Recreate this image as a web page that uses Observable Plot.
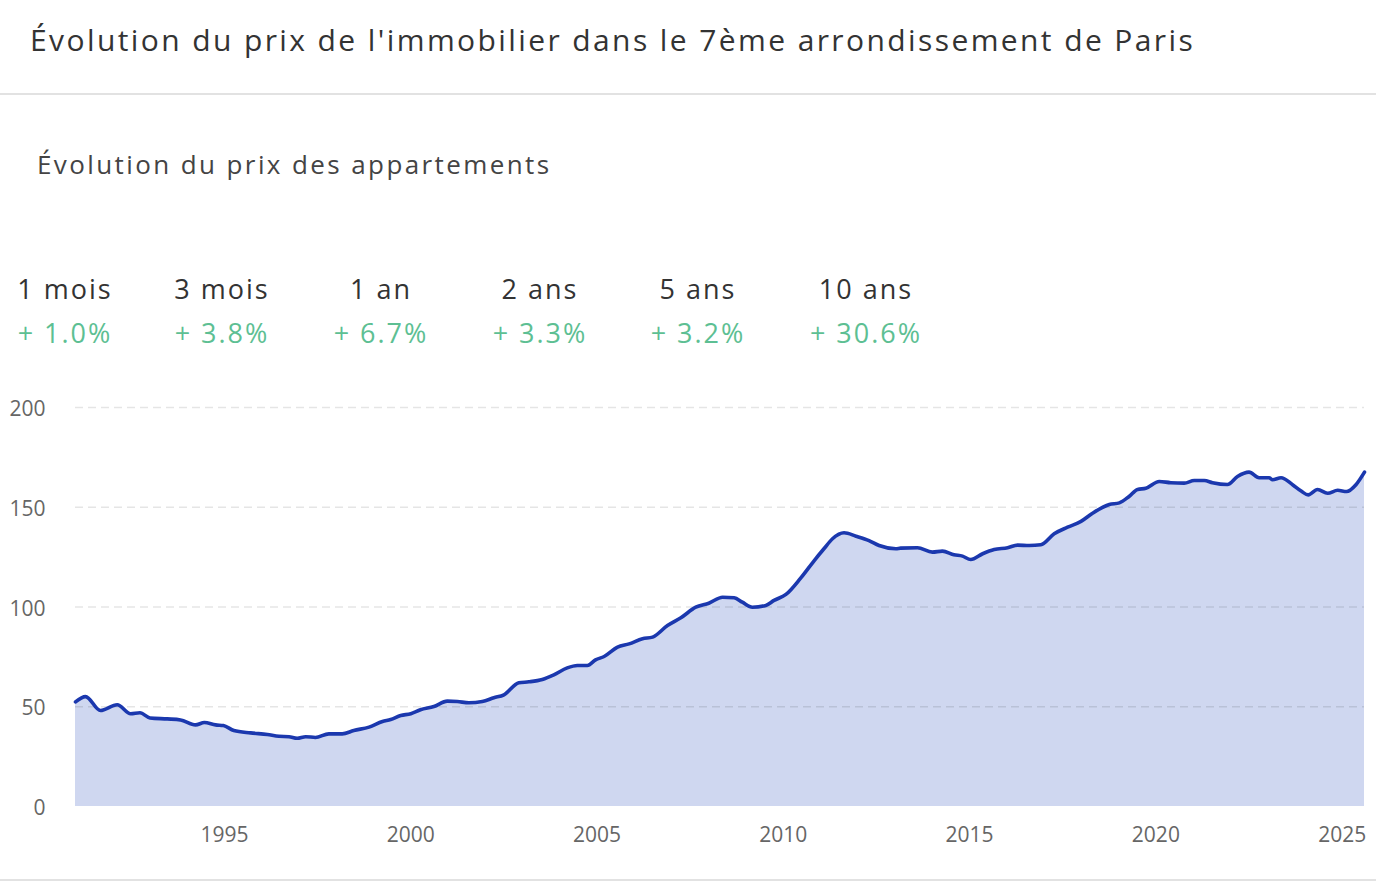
<!DOCTYPE html>
<html>
<head>
<meta charset="utf-8">
<script src="https://cdn.jsdelivr.net/npm/d3@7"></script>
<script src="https://cdn.jsdelivr.net/npm/@observablehq/plot@0.6"></script>
<style>
  html, body { margin: 0; padding: 0; background: #fff; }
  body { width: 1376px; height: 885px; position: relative; overflow: hidden; font-family: "Open Sans", sans-serif; }
  .title { position: absolute; left: 30px; top: 19px; font-size: 30px; font-weight: 500; color: #333; white-space: nowrap; letter-spacing: 2.4px; }
  .sep { position: absolute; left: 0; width: 1376px; height: 2px; background: #e2e2e2; }
  .subtitle { position: absolute; left: 37px; top: 146px; font-size: 26px; color: #444; white-space: nowrap; letter-spacing: 2.4px; }
  .stat { position: absolute; width: 180px; text-align: center; white-space: nowrap; letter-spacing: 2px; }
  .stat .lab { font-size: 27px; color: #333; position: absolute; top: 270px; width: 100%; }
  .stat .val { font-size: 27px; color: #5dbf93; position: absolute; top: 314px; width: 100%; }
  #chart { position: absolute; left: 0; top: 380px; }
</style>
</head>
<body>
<div class="title">Évolution du prix de l'immobilier dans le 7ème arrondissement de Paris</div>
<div class="sep" style="top:93px"></div>
<div class="subtitle">Évolution du prix des appartements</div>
<div id="stats"></div>
<div id="chart"></div>
<div class="sep" style="top:879px"></div>
<script>
const periodLabels = ["1 mois", "3 mois", "1 an", "2 ans", "5 ans", "10 ans"];
const periodChanges = ["+ 1.0%", "+ 3.8%", "+ 6.7%", "+ 3.3%", "+ 3.2%", "+ 30.6%"];

const years = [1991.0, 1991.27, 1991.67, 1992.12, 1992.48, 1992.73, 1993.0, 1993.46, 1993.82, 1994.22,
  1994.46, 1994.76, 1994.97, 1995.25, 1995.7, 1996.15, 1996.46, 1996.73, 1996.95, 1997.18,
  1997.44, 1997.8, 1998.16, 1998.47, 1998.88, 1999.24, 1999.46, 1999.73, 2000.0, 2000.26,
  2000.62, 2000.98, 2001.25, 2001.56, 2001.92, 2002.23, 2002.5, 2002.9, 2003.17, 2003.53,
  2003.84, 2004.2, 2004.47, 2004.74, 2004.96, 2005.19, 2005.55, 2005.86, 2006.22, 2006.49,
  2006.89, 2007.25, 2007.65, 2008.0, 2008.37, 2008.68, 2008.9, 2009.17, 2009.53, 2009.75,
  2010.07, 2010.47, 2010.83, 2011.09, 2011.32, 2011.63, 2011.95, 2012.3, 2012.57, 2013.02,
  2013.15, 2013.6, 2014.0, 2014.27, 2014.58, 2014.81, 2015.03, 2015.35, 2015.66, 2016.02,
  2016.29, 2016.6, 2016.91, 2017.27, 2017.63, 2017.99, 2018.3, 2018.75, 2019.02, 2019.28,
  2019.51, 2019.73, 2020.09, 2020.4, 2020.76, 2021.03, 2021.3, 2021.52, 2021.92, 2022.19,
  2022.5, 2022.77, 2023.04, 2023.13, 2023.36, 2023.67, 2023.9, 2024.09, 2024.34, 2024.61,
  2024.88, 2025.12, 2025.37, 2025.6];
const prices = [52.4, 55.1, 48.1, 51.0, 46.5, 47.0, 44.4, 43.9, 43.4, 40.9,
  42.1, 40.9, 40.6, 38.1, 36.9, 36.1, 35.2, 35.0, 34.2, 35.0,
  34.6, 36.4, 36.4, 38.1, 39.8, 42.6, 43.6, 45.6, 46.5, 48.5,
  50.1, 52.8, 52.6, 52.0, 52.6, 54.5, 56.0, 62.0, 62.5, 63.7,
  66.0, 69.5, 70.7, 70.7, 73.5, 75.2, 79.9, 81.5, 84.1, 84.9,
  90.7, 94.6, 99.9, 101.9, 104.9, 104.6, 102.4, 99.9, 100.8, 103.3,
  106.3, 114.6, 123.3, 129.2, 134.2, 137.2, 135.5, 133.3, 130.8, 129.2,
  129.5, 129.7, 127.5, 128.0, 126.2, 125.5, 123.8, 126.7, 128.8, 129.7,
  131.0, 130.8, 131.2, 136.7, 140.0, 142.9, 147.0, 151.4, 152.2, 155.4,
  158.9, 159.5, 162.9, 162.3, 162.1, 163.4, 163.4, 162.3, 161.4, 165.4,
  167.6, 164.8, 164.8, 163.8, 164.8, 161.3, 158.1, 156.2, 158.9, 157.0,
  158.5, 157.9, 161.3, 167.6];
const xTicks = [1995, 2000, 2005, 2010, 2015, 2020, 2025];
const yTicks = [0, 50, 100, 150, 200];
const gridTicks = [50, 100, 150, 200];

// stats header
const statCenters = [65, 222, 381, 540, 698, 866];
const stats = document.getElementById("stats");
periodLabels.forEach((lab, i) => {
  const d = document.createElement("div");
  d.className = "stat";
  d.style.left = (statCenters[i] - 90) + "px";
  d.innerHTML = `<div class="lab">${lab}</div><div class="val">${periodChanges[i]}</div>`;
  stats.appendChild(d);
});

const data = years.map((x, i) => ({x, y: prices[i]}));

const chart = Plot.plot({
  width: 1376,
  height: 490,
  marginLeft: 75,
  marginRight: 12,
  marginTop: 27,
  marginBottom: 64,
  style: {fontFamily: "Open Sans", fontSize: "21px", color: "#666", background: "transparent", overflow: "visible"},
  x: {domain: [1991, 2025.6], label: null},
  y: {domain: [0, 200], label: null},
  marks: [
    Plot.areaY(data, {x: "x", y: "y", fill: "#cfd7f0", curve: "monotone-x"}),
    Plot.ruleY(gridTicks, {stroke: "#000", strokeOpacity: 0.1, strokeWidth: 1.5, strokeDasharray: "8,5"}),
    Plot.lineY(data, {x: "x", y: "y", stroke: "#1b38ae", strokeWidth: 3.6, curve: "monotone-x"}),
    Plot.axisX({ticks: xTicks, tickSize: 0, tickPadding: 21, tickFormat: d => String(d), fill: "#666", label: null}),
    Plot.axisY({ticks: yTicks, tickSize: 0, tickPadding: 30, dy: 2, fill: "#666", label: null})
  ]
});
document.getElementById("chart").appendChild(chart);
</script>
</body>
</html>
